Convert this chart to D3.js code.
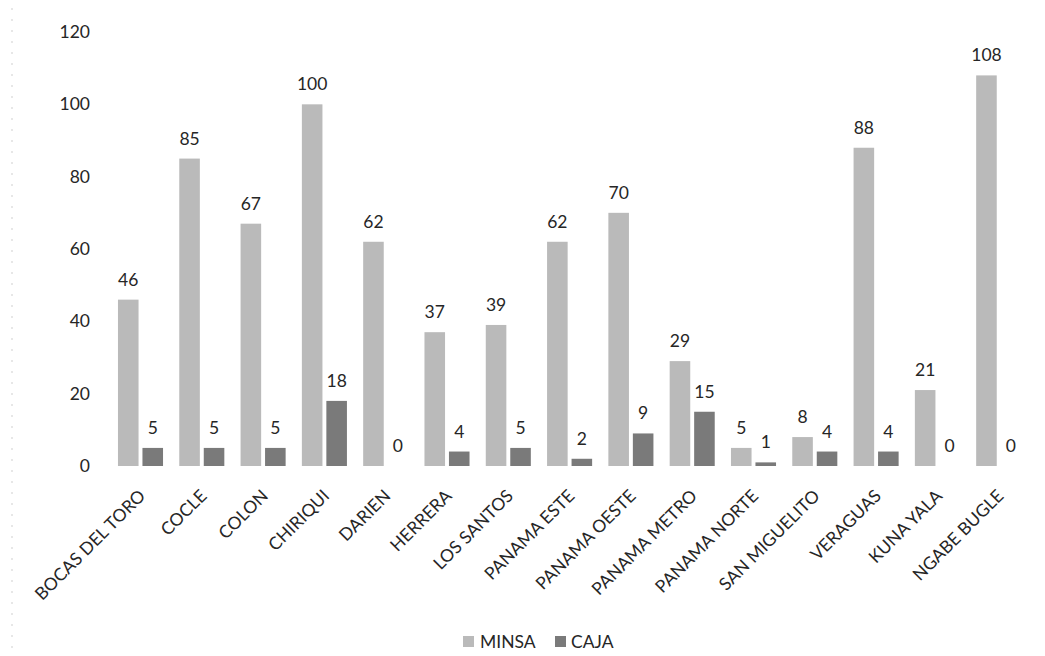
<!DOCTYPE html>
<html>
<head>
<meta charset="utf-8">
<script src="https://cdn.jsdelivr.net/npm/d3@7/dist/d3.min.js"></script>
<style>
  html, body { margin: 0; padding: 0; background: #ffffff; }
  svg { display: block; }
  text { font-family: Lato, "Open Sans", sans-serif; fill: #262626; }
</style>
</head>
<body>
<svg id="chart" width="1045" height="656"></svg>
<script>
// Regions (categories) and the two series per region
const regions = ["BOCAS DEL TORO", "COCLE", "COLON", "CHIRIQUI", "DARIEN", "HERRERA",
  "LOS SANTOS", "PANAMA ESTE", "PANAMA OESTE", "PANAMA METRO", "PANAMA NORTE",
  "SAN MIGUELITO", "VERAGUAS", "KUNA YALA", "NGABE BUGLE"];
const seriesNames = ["MINSA", "CAJA"];
const minsa = [46, 85, 67, 100, 62, 37, 39, 62, 70, 29, 5, 8, 88, 21, 108];
const caja  = [5, 5, 5, 18, 0, 4, 5, 2, 9, 15, 1, 4, 4, 0, 0];
const yTicks = [0, 20, 40, 60, 80, 100, 120];

const colors = { MINSA: "#bababa", CAJA: "#7a7a7a" };
const seriesValues = { MINSA: minsa, CAJA: caja };

const svg = d3.select("#chart");

const x0 = d3.scaleBand()
  .domain(regions)
  .range([109.85, 1029.35])
  .paddingInner(0.265)
  .paddingOuter(0.1325);

const x1 = d3.scaleBand()
  .domain(seriesNames)
  .range([0, x0.bandwidth()])
  .paddingInner(0.16)
  .paddingOuter(0);

const y = d3.scaleLinear().domain([0, 120]).range([466, 32]);

// faint dotted edge line on the left
svg.append("line")
  .attr("x1", 12).attr("x2", 12).attr("y1", 8).attr("y2", 650)
  .attr("stroke", "#cfcfcf").attr("stroke-width", 1)
  .attr("stroke-dasharray", "2,9");

// y axis: labels only, no line or ticks
const yAxis = d3.axisLeft(y).tickValues(yTicks).tickSize(0).tickPadding(0);
const yg = svg.append("g").attr("transform", "translate(90,0)").call(yAxis);
yg.select(".domain").remove();
yg.selectAll("text")
  .attr("font-size", 17.5)
  .attr("font-family", "Lato, 'Open Sans', sans-serif")
  .attr("fill", "#262626");

// grouped bars
const groups = svg.append("g")
  .selectAll("g")
  .data(regions)
  .join("g")
  .attr("transform", d => `translate(${x0(d)},0)`);

const cells = groups.selectAll("g.cell")
  .data((d, i) => seriesNames.map(s => ({ series: s, value: seriesValues[s][i] })))
  .join("g").attr("class", "cell");

cells.append("rect")
  .attr("x", d => x1(d.series))
  .attr("width", x1.bandwidth())
  .attr("y", d => y(d.value))
  .attr("height", d => y(0) - y(d.value))
  .attr("fill", d => colors[d.series]);

cells.append("text")
  .attr("x", d => x1(d.series) + x1.bandwidth() / 2)
  .attr("y", d => y(d.value) - 14)
  .attr("text-anchor", "middle")
  .attr("font-size", 17.5)
  .text(d => d.value);

// x axis: rotated category labels
const xAxis = d3.axisBottom(x0).tickSize(0).tickPadding(0);
const xg = svg.append("g").call(xAxis);
xg.select(".domain").remove();
xg.selectAll(".tick").attr("transform", d => `translate(${x0(d) + x0.bandwidth() / 2 + 6},497)`);
xg.selectAll(".tick text")
  .attr("y", 0).attr("dy", 0).attr("x", 0)
  .attr("transform", "rotate(-45)")
  .attr("text-anchor", "end")
  .attr("font-size", 17.5)
  .attr("font-family", "Lato, 'Open Sans', sans-serif")
  .attr("fill", "#262626");

// legend
const legendItems = [
  { name: "MINSA", sx: 463, tx: 480 },
  { name: "CAJA", sx: 555, tx: 571 }
];
const legend = svg.append("g");
legendItems.forEach(it => {
  legend.append("rect")
    .attr("x", it.sx).attr("y", 636)
    .attr("width", 11).attr("height", 11)
    .attr("fill", colors[it.name]);
  legend.append("text")
    .attr("x", it.tx).attr("y", 648)
    .attr("font-size", 17.5)
    .text(it.name);
});
</script>
</body>
</html>
